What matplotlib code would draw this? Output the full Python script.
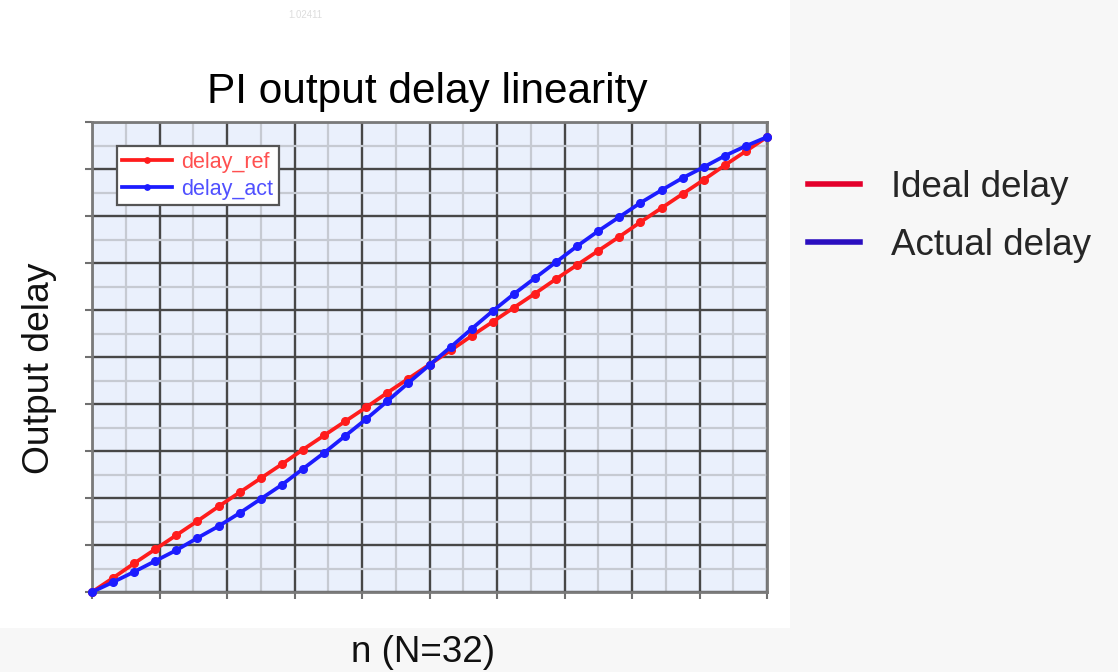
import numpy as np
import matplotlib.pyplot as plt
from matplotlib.lines import Line2D
from matplotlib.patches import Rectangle

plt.rcParams['font.family'] = ['Liberation Sans', 'DejaVu Sans']

# n = 0 .. 32 (N=32)
n = np.arange(33)
# Ideal delay (delay_ref), grid units
delay_ref = [0.00, 0.30, 0.61, 0.91, 1.21, 1.51, 1.82, 2.12, 2.42, 2.72, 3.03,
             3.33, 3.63, 3.93, 4.24, 4.54, 4.84, 5.14, 5.45, 5.75, 6.05, 6.35,
             6.66, 6.96, 7.26, 7.56, 7.87, 8.17, 8.47, 8.77, 9.08, 9.38, 9.68]
# Actual delay (delay_act)
delay_act = [0.00, 0.21, 0.43, 0.66, 0.89, 1.15, 1.40, 1.68, 1.98, 2.28, 2.62,
             2.96, 3.32, 3.68, 4.06, 4.45, 4.83, 5.21, 5.60, 5.98, 6.34, 6.68,
             7.02, 7.36, 7.68, 7.98, 8.28, 8.55, 8.81, 9.04, 9.28, 9.49, 9.68]

fig = plt.figure(figsize=(11.18, 6.72), dpi=100, facecolor='#f7f7f7')
# white area of the pasted chart image
fig.patches.append(Rectangle((0, 1 - 628 / 672), 790 / 1118, 628 / 672,
                             transform=fig.transFigure, facecolor='white',
                             edgecolor='none', zorder=-5))

ax = fig.add_axes([92 / 1118, 1 - 592 / 672, 675 / 1118, 470 / 672])
ax.set_facecolor('#eaf0fc')
ax.set_xlim(0, 32)
ax.set_ylim(0, 10)
ax.set_xticks(np.linspace(0, 32, 11))
ax.set_xticks(np.linspace(0, 32, 21), minor=True)
ax.set_yticks(np.arange(0, 11))
ax.set_yticks(np.arange(0, 10.5, 0.5), minor=True)
ax.grid(which='major', color='#474747', lw=1.7)
ax.grid(which='minor', color='#c6cad2', lw=1.6)
ax.set_axisbelow(True)
ax.tick_params(which='major', direction='out', length=5, width=1.5,
               color='#707070', labelbottom=False, labelleft=False)
ax.tick_params(which='minor', length=0)
for s in ax.spines.values():
    s.set_color('#7a7a7a')
    s.set_linewidth(2)

ax.plot(n, delay_ref, '-o', color='#ff1c1c', lw=2.7, ms=5.5, label='delay_ref',
        clip_on=False, zorder=3)
ax.plot(n, delay_act, '-o', color='#1c1cff', lw=2.7, ms=5.5, label='delay_act',
        clip_on=False, zorder=4)

leg = ax.legend(loc='upper left', bbox_to_anchor=(0.037, 0.948), fontsize=15.5,
                frameon=True, fancybox=False, framealpha=1, edgecolor='#555555',
                handlelength=2.3, borderpad=0.25, labelspacing=0.28,
                handletextpad=0.45, borderaxespad=0, markerscale=0.7)
leg.get_frame().set_linewidth(1.6)
for t, c in zip(leg.get_texts(), ['#ff5050', '#5050ff']):
    t.set_color(c)

fig.text(427 / 1118, 1 - 92 / 672, 'PI output delay linearity', fontsize=30.5,
         ha='center', va='center', color='black')
fig.text(40 / 1118, 1 - 368 / 672, 'Output delay', fontsize=26.8, rotation=90,
         ha='center', va='center', color='#111111')
fig.text(423 / 1118, 1 - 652 / 672, 'n (N=32)', fontsize=26.5,
         ha='center', va='center', color='#111111')

# outer legend
handles = [Line2D([], [], color='#e4002b', lw=4),
           Line2D([], [], color='#2b0fc0', lw=4)]
fig.legend(handles, ['Ideal delay', 'Actual delay'], loc='upper left',
           bbox_to_anchor=(775 / 1118, 1 - 137 / 672), fontsize=26.5,
           frameon=False, handlelength=1.4, handletextpad=0.85,
           labelspacing=0.62, labelcolor='#262626')

fig.text(305 / 1118, 1 - 15 / 672, '1.02411', fontsize=7, color='#dddddd',
         ha='center', va='center')

fig.savefig('out.png', dpi=100, facecolor=fig.get_facecolor())
